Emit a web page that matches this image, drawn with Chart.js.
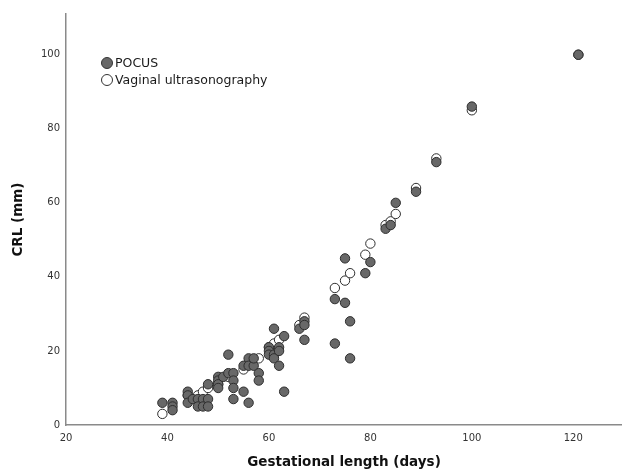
<!DOCTYPE html>
<html>
<head>
<meta charset="utf-8">
<script src="https://cdn.jsdelivr.net/npm/chart.js@4"></script>
<style>
  html, body { margin: 0; padding: 0; background: #ffffff; overflow: hidden; }
  canvas { display: block; }
</style>
</head>
<body>
<canvas id="c" width="622" height="473" style="width:622px;height:473px"></canvas>
<script>
// ---- data ----
const seriesNames = ["POCUS", "Vaginal ultrasonography"];
const pocusDays = [39,41,41,41,44,44,44,45,46,46,47,47,48,48,48,50,50,50,50,51,52,52,53,53,53,53,55,55,56,56,56,57,57,58,58,60,60,60,61,61,61,62,62,62,63,63,66,67,67,67,73,73,75,75,76,76,79,80,83,84,85,89,93,100,121];
const pocusCRL  = [6,6,5,4,9,8,6,7,7,5,7,5,11,7,5,13,12,11,10,13,19,14,14,12,10,7,16,9,18,16,6,16,18,14,12,21,20,19,26,19,18,21,20,16,24,9,26,28,27,23,34,22,45,33,28,18,41,44,53,54,60,63,71,86,100];
const vaginalDays = [39,44,46,47,48,50,52,55,58,60,61,62,66,67,73,75,76,79,80,83,84,85,89,93,100,121];
const vaginalCRL  = [3,8,8,9,10,11,13,15,18,21,22,23,27,29,37,39,41,46,49,54,55,57,64,72,85,100];
const xTicks = [20,40,60,80,100,120];
const yTicks = [0,20,40,60,80,100];
const xTitle = "Gestational length (days)";
const yTitle = "CRL (mm)";

const toPts = (xs, ys) => xs.map((x, i) => ({x: x, y: ys[i]}));

const legendPlugin = {
  id: 'insideLegend',
  afterDatasetsDraw(chart) {
    const ctx = chart.ctx;
    const area = chart.chartArea;
    const x0 = area.left + 41;
    const y0 = area.top + 49;
    const gap = 17;
    ctx.save();
    chart.data.datasets.forEach((ds, i) => {
      const cy = y0 + i * gap;
      ctx.beginPath();
      ctx.arc(x0, cy, 5.5, 0, Math.PI * 2);
      ctx.fillStyle = ds.backgroundColor;
      ctx.fill();
      ctx.lineWidth = 1;
      ctx.strokeStyle = '#333333';
      ctx.stroke();
      ctx.fillStyle = '#1a1a1a';
      ctx.font = '12.5px "DejaVu Sans"';
      ctx.textBaseline = 'middle';
      ctx.textAlign = 'left';
      ctx.fillText(ds.label, x0 + 8, cy + 1);
    });
    ctx.restore();
  }
};

new Chart(document.getElementById('c'), {
  type: 'scatter',
  data: {
    datasets: [
      {
        label: seriesNames[0],
        data: toPts(pocusDays, pocusCRL),
        backgroundColor: '#686868',
        borderColor: '#2e2e2e',
        borderWidth: 1,
        pointRadius: 4.7,
        pointHoverRadius: 4.7
      },
      {
        label: seriesNames[1],
        data: toPts(vaginalDays, vaginalCRL),
        backgroundColor: '#ffffff',
        borderColor: '#2e2e2e',
        borderWidth: 1,
        pointRadius: 4.7,
        pointHoverRadius: 4.7
      }
    ]
  },
  options: {
    responsive: false,
    maintainAspectRatio: false,
    devicePixelRatio: 1,
    animation: false,
    layout: { autoPadding: false, padding: { top: 14, right: 0, left: 0, bottom: 0 } },
    plugins: {
      legend: { display: false },
      tooltip: { enabled: false }
    },
    scales: {
      x: {
        type: 'linear',
        min: 20,
        max: 129.6,
        afterFit(scale) {
          scale.height = 48;
          scale.paddingLeft = 0; scale.paddingRight = 0;
        },
        afterBuildTicks(scale) { scale.ticks = xTicks.map(v => ({value: v})); },
        ticks: {
          color: '#333333',
          font: { family: 'DejaVu Sans', size: 10 },
          padding: 7,
          maxRotation: 0
        },
        grid: { display: false, drawTicks: false },
        border: { display: true, color: '#8a8a8a', width: 1.5 },
        title: {
          display: true,
          text: xTitle,
          color: '#111111',
          font: { family: 'DejaVu Sans', size: 13.5, weight: 'bold' },
          padding: { top: 2, bottom: 2 }
        }
      },
      y: {
        type: 'linear',
        min: 0,
        max: 111,
        afterFit(scale) {
          scale.width = 66;
          scale.paddingTop = 0; scale.paddingBottom = 0;
        },
        afterBuildTicks(scale) { scale.ticks = yTicks.map(v => ({value: v})); },
        ticks: {
          color: '#333333',
          font: { family: 'DejaVu Sans', size: 10 },
          padding: 6
        },
        grid: { display: false, drawTicks: false },
        border: { display: true, color: '#8a8a8a', width: 1.5 },
        title: {
          display: true,
          text: yTitle,
          color: '#111111',
          font: { family: 'DejaVu Sans', size: 13.5, weight: 'bold' },
          padding: { top: 10, bottom: 0 }
        }
      }
    }
  },
  plugins: [legendPlugin]
});
</script>
</body>
</html>
